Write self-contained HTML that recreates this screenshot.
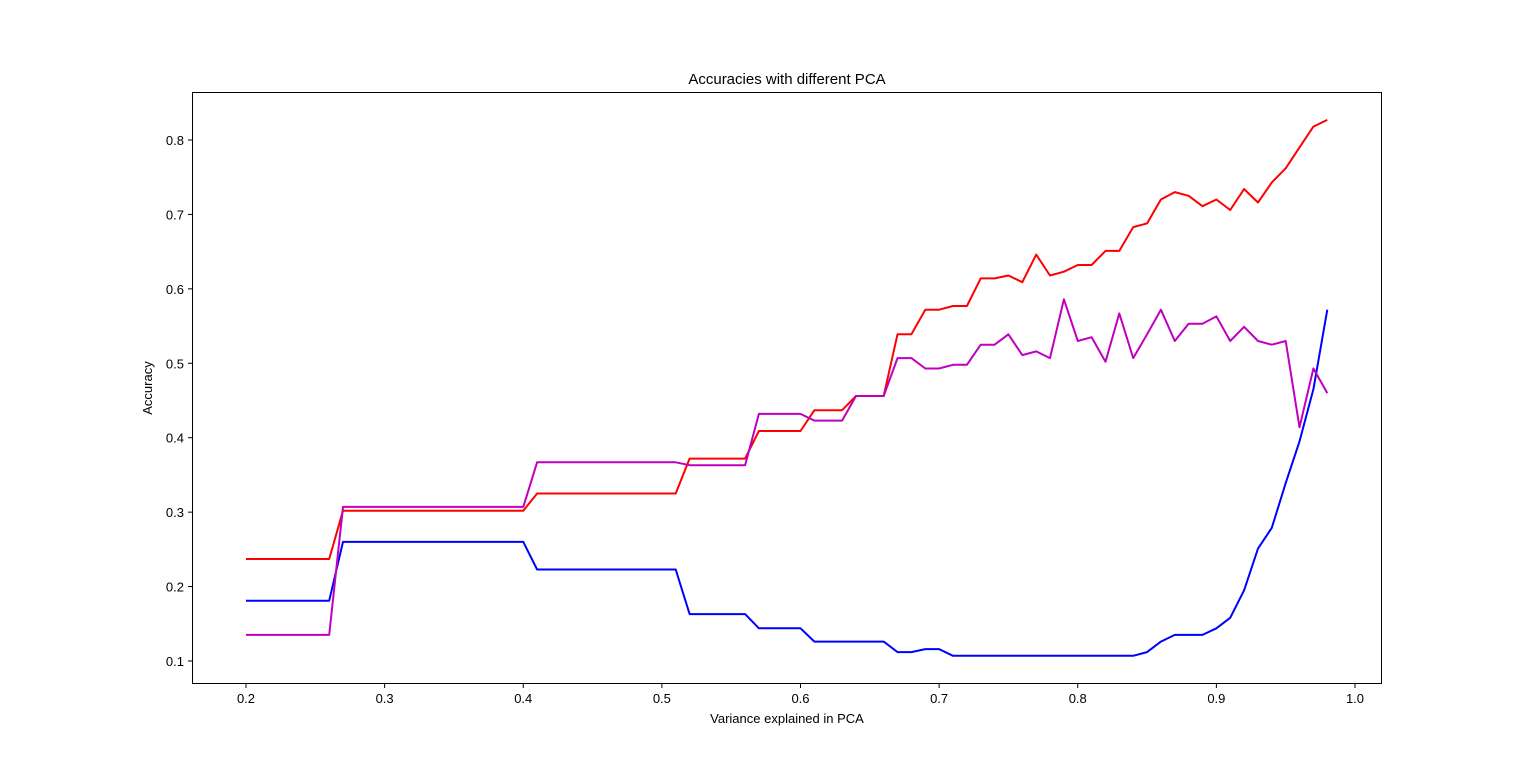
<!DOCTYPE html>
<html><head><meta charset="utf-8"><style>
html,body{margin:0;padding:0;background:#fff;}
svg text{font-family:"Liberation Sans","DejaVu Sans",sans-serif;fill:#000;}
</style></head><body>
<svg id="chart" width="1536" height="767" xmlns="http://www.w3.org/2000/svg">
<rect width="1536" height="767" fill="#fff"/>
<text x="787" y="84" font-size="15" text-anchor="middle">Accuracies with different PCA</text>
<text x="787" y="723" font-size="13" text-anchor="middle">Variance explained in PCA</text>
<text x="152" y="388" font-size="13" text-anchor="middle" transform="rotate(-90 152 388)">Accuracy</text>
<g id="ticks"></g>
<g id="series"></g>
<rect x="192.5" y="92.5" width="1189" height="591" fill="none" stroke="#000" stroke-width="1"/>
</svg>
<script>
const xValues = [0.20,0.21,0.22,0.23,0.24,0.25,0.26,0.27,0.28,0.29,0.30,0.31,0.32,0.33,0.34,0.35,0.36,0.37,0.38,0.39,0.40,0.41,0.42,0.43,0.44,0.45,0.46,0.47,0.48,0.49,0.50,0.51,0.52,0.53,0.54,0.55,0.56,0.57,0.58,0.59,0.60,0.61,0.62,0.63,0.64,0.65,0.66,0.67,0.68,0.69,0.70,0.71,0.72,0.73,0.74,0.75,0.76,0.77,0.78,0.79,0.80,0.81,0.82,0.83,0.84,0.85,0.86,0.87,0.88,0.89,0.90,0.91,0.92,0.93,0.94,0.95,0.96,0.97,0.98];
const redValues = [0.237,0.237,0.237,0.237,0.237,0.237,0.237,0.302,0.302,0.302,0.302,0.302,0.302,0.302,0.302,0.302,0.302,0.302,0.302,0.302,0.302,0.325,0.325,0.325,0.325,0.325,0.325,0.325,0.325,0.325,0.325,0.325,0.372,0.372,0.372,0.372,0.372,0.409,0.409,0.409,0.409,0.437,0.437,0.437,0.456,0.456,0.456,0.539,0.539,0.572,0.572,0.577,0.577,0.614,0.614,0.618,0.609,0.646,0.618,0.623,0.632,0.632,0.651,0.651,0.683,0.688,0.720,0.730,0.725,0.711,0.720,0.706,0.734,0.716,0.743,0.762,0.790,0.818,0.827];
const magentaValues = [0.135,0.135,0.135,0.135,0.135,0.135,0.135,0.307,0.307,0.307,0.307,0.307,0.307,0.307,0.307,0.307,0.307,0.307,0.307,0.307,0.307,0.367,0.367,0.367,0.367,0.367,0.367,0.367,0.367,0.367,0.367,0.367,0.363,0.363,0.363,0.363,0.363,0.432,0.432,0.432,0.432,0.423,0.423,0.423,0.456,0.456,0.456,0.507,0.507,0.493,0.493,0.498,0.498,0.525,0.525,0.539,0.511,0.516,0.507,0.586,0.530,0.535,0.502,0.567,0.507,0.539,0.572,0.530,0.553,0.553,0.563,0.530,0.549,0.530,0.525,0.530,0.414,0.493,0.460];
const blueValues = [0.181,0.181,0.181,0.181,0.181,0.181,0.181,0.260,0.260,0.260,0.260,0.260,0.260,0.260,0.260,0.260,0.260,0.260,0.260,0.260,0.260,0.223,0.223,0.223,0.223,0.223,0.223,0.223,0.223,0.223,0.223,0.223,0.163,0.163,0.163,0.163,0.163,0.144,0.144,0.144,0.144,0.126,0.126,0.126,0.126,0.126,0.126,0.112,0.112,0.116,0.116,0.107,0.107,0.107,0.107,0.107,0.107,0.107,0.107,0.107,0.107,0.107,0.107,0.107,0.107,0.112,0.126,0.135,0.135,0.135,0.144,0.158,0.195,0.251,0.279,0.339,0.395,0.465,0.572];
const xTicks = [0.2,0.3,0.4,0.5,0.6,0.7,0.8,0.9,1.0];
const xTickLabels = ["0.2","0.3","0.4","0.5","0.6","0.7","0.8","0.9","1.0"];
const yTicks = [0.1,0.2,0.3,0.4,0.5,0.6,0.7,0.8];
const yTickLabels = ["0.1","0.2","0.3","0.4","0.5","0.6","0.7","0.8"];

const NS = "http://www.w3.org/2000/svg";
function xScale(v){ return 246 + (v - 0.2) * 1386.25; }
function yScale(v){ return 661 - (v - 0.1) * 744.3; }

const tg = document.getElementById('ticks');
xTicks.forEach((t,i)=>{
  const x = xScale(t);
  const l = document.createElementNS(NS,'line');
  l.setAttribute('x1',x);l.setAttribute('x2',x);l.setAttribute('y1',684);l.setAttribute('y2',688);
  l.setAttribute('stroke','#000');
  
  
  tg.appendChild(l);
  const tx = document.createElementNS(NS,'text');
  tx.setAttribute('x',x);tx.setAttribute('y',703);tx.setAttribute('font-size','13');tx.setAttribute('text-anchor','middle');
  tx.textContent = xTickLabels[i];
  
  
  tg.appendChild(tx);
});
yTicks.forEach((t,i)=>{
  const y = yScale(t);
  const l = document.createElementNS(NS,'line');
  l.setAttribute('x1',188);l.setAttribute('x2',192);l.setAttribute('y1',y);l.setAttribute('y2',y);
  l.setAttribute('stroke','#000');
  
  
  tg.appendChild(l);
  const tx = document.createElementNS(NS,'text');
  tx.setAttribute('x',184);tx.setAttribute('y',y+5);tx.setAttribute('font-size','13');tx.setAttribute('text-anchor','end');
  tx.textContent = yTickLabels[i];
  
  
  tg.appendChild(tx);
});

const sg = document.getElementById('series');
function drawLine(vals, color, name){
  const p = document.createElementNS(NS,'polyline');
  p.setAttribute('points', vals.map((v,i)=>xScale(xValues[i]).toFixed(1)+','+yScale(v).toFixed(1)).join(' '));
  p.setAttribute('fill','none');p.setAttribute('stroke',color);p.setAttribute('stroke-width','2');
  p.setAttribute('stroke-linejoin','round');
  
  
  sg.appendChild(p);
}
drawLine(redValues,'#ff0000','red-accuracy-line');
drawLine(blueValues,'#0000ff','blue-accuracy-line');
drawLine(magentaValues,'#bf00bf','magenta-accuracy-line');
</script>
</body></html>
